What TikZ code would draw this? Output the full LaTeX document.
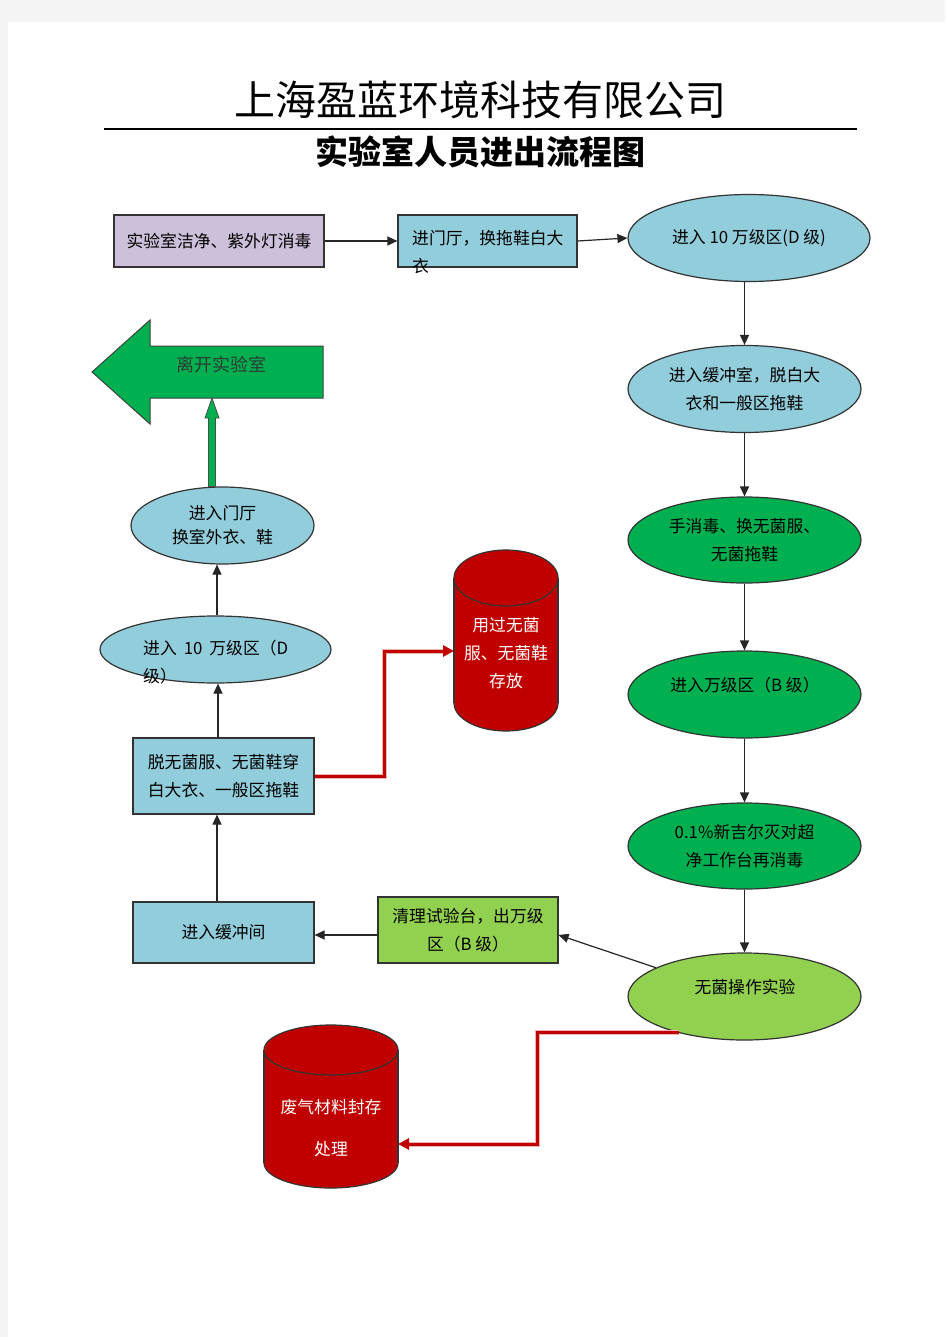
\documentclass[tikz,border=0pt]{standalone}
\usepackage{fontspec}
\newfontfamily\cjk{Noto Sans CJK SC}
\usetikzlibrary{shapes.geometric,arrows.meta,calc}
\definecolor{cgray}{HTML}{F4F4F4}
\definecolor{cpurple}{HTML}{CCC0DA}
\definecolor{cblue}{HTML}{92CDDC}
\definecolor{cgreen}{HTML}{00B050}
\definecolor{clgreen}{HTML}{92D050}
\definecolor{cred}{HTML}{C00000}
\definecolor{cdark}{HTML}{2E3B33}
\begin{document}
\begin{tikzpicture}[x=1pt,y=-1pt,
  font={\cjk\fontsize{16.8}{28}\selectfont},
  box/.style={draw=black!80,line width=1.2pt,rectangle,inner sep=0pt,align=center},
  oval/.style={draw=black!80,line width=1.2pt,ellipse,inner sep=0pt,align=center},
  txt/.style={inner sep=0pt,align=center},
  arr/.style={line width=1.2pt,draw=black!85,-{Triangle[length=10pt,width=9pt]}},
  redarr/.style={line width=3pt,draw=cred,-{Triangle[length=11pt,width=11pt]},
    preaction={draw=cred!30,line width=5pt,-,shorten >=9pt}},
  cylline/.style={line width=1.2pt,draw=black!80}]
% page
\fill[cgray] (0,0) rectangle (945,1337);
\fill[white] (8,22) rectangle (945,1337);
\useasboundingbox (0,0) rectangle (945,1337);
% titles
\node[txt,font={\cjk\fontsize{41}{41}\selectfont}] (title) at (480,100) {上海盈蓝环境科技有限公司};
\draw[line width=1.2pt] (104,129) -- (857,129);
\node[txt,font={\cjk\bfseries\fontsize{33}{33}\selectfont}] (sub) at (480,152) {实验室人员进出流程图};
% right column
\node[box,fill=cpurple,minimum width=210pt,minimum height=52pt] (n1) at (219,241) {实验室洁净、紫外灯消毒};
\node[box,fill=cblue,minimum width=179pt,minimum height=52pt] (n2) at (487.5,241) {};
\node[txt,anchor=west,align=left] (n2t) at (412,252) {进门厅，换拖鞋白大\\衣};
\node[oval,fill=cblue,minimum width=242pt,minimum height=87pt] (n3) at (749,238) {进入 10 万级区(D 级)};
\node[oval,fill=cblue,minimum width=233pt,minimum height=87pt] (n4) at (744.5,389) {进入缓冲室，脱白大\\衣和一般区拖鞋};
\node[oval,fill=cgreen,minimum width=233pt,minimum height=86pt] (n5) at (744.5,540) {手消毒、换无菌服、\\无菌拖鞋};
\node[oval,fill=cgreen,minimum width=233pt,minimum height=87pt] (n6) at (744.5,694.5) {};
\node[txt] (n6t) at (745,685) {进入万级区（B 级）};
\node[oval,fill=cgreen,minimum width=233pt,minimum height=86pt] (n7) at (744.5,846) {0.1\%新吉尔灭对超\\净工作台再消毒};
\node[oval,fill=clgreen,minimum width=233pt,minimum height=87pt] (n8) at (744.5,996.5) {};
\node[txt] (n8t) at (745,987) {无菌操作实验};
% left column
\node[box,fill=clgreen,minimum width=180pt,minimum height=66pt] (n9) at (468,930) {清理试验台，出万级\\区（B 级）};
\node[box,fill=cblue,minimum width=181pt,minimum height=61pt] (n10) at (223.5,932.5) {进入缓冲间};
\node[box,fill=cblue,minimum width=181pt,minimum height=76pt] (n11) at (223.5,776) {脱无菌服、无菌鞋穿\\白大衣、一般区拖鞋};
\node[oval,fill=cblue,minimum width=231pt,minimum height=67pt] (n12) at (215.5,649.5) {};
\node[txt,anchor=west,align=left] (n12t) at (143,662) {进入\hspace{7pt}10\hspace{7pt}万级区（D\\级）};
\node[oval,fill=cblue,minimum width=183pt,minimum height=77pt,font={\cjk\fontsize{16.8}{24}\selectfont}] (n13) at (222.5,525.5) {进入门厅\\换室外衣、鞋};
% leave arrow shape
\filldraw[fill=cgreen,draw=black!75,line width=1pt] (92,372) -- (150,320) -- (150,346) -- (323,346) -- (323,398) -- (150,398) -- (150,424) -- cycle;
\node[txt,text=cdark,font={\cjk\fontsize{18}{18}\selectfont}] (leave) at (221,365) {离开实验室};
\coordinate (leaveb) at (212,398);
% cylinder 1
\fill[cred] (454,578) rectangle (558,703);
\fill[cred] (506,703) ellipse (52 and 28);
\draw[cylline] (454,578) -- (454,703) (558,578) -- (558,703);
\begin{scope}
\clip (440,703) rectangle (570,740);
\draw[cylline] (506,703) ellipse (52 and 28);
\end{scope}
\filldraw[cylline,fill=cred] (506,578) ellipse (52 and 28);
\node[txt,text=white] (cyl1) at (506,653) {用过无菌\\服、无菌鞋\\存放};
\coordinate (c1w) at (454,651);
% cylinder 2
\fill[cred] (264,1050) rectangle (398,1163);
\fill[cred] (331,1163) ellipse (67 and 25);
\draw[cylline] (264,1050) -- (264,1163) (398,1050) -- (398,1163);
\begin{scope}
\clip (250,1163) rectangle (410,1200);
\draw[cylline] (331,1163) ellipse (67 and 25);
\end{scope}
\filldraw[cylline,fill=cred] (331,1050) ellipse (67 and 25);
\node[txt,text=white,font={\cjk\fontsize{16.8}{42}\selectfont}] (cyl2) at (331,1128) {废气材料封存\\处理};
\coordinate (c2e) at (398,1144);
% connectors
\draw[arr] (n1.east) -- (n2.west);
\draw[arr] (n2.east) -- (n3.west);
\draw[arr] (n4.north |- n3.south) -- (n4.north);
\draw[arr] (n4.south) -- (n5.north);
\draw[arr] (n5.south) -- (n6.north);
\draw[arr] (n6.south) -- (n7.north);
\draw[arr] (n7.south) -- (n8.north);
\draw[arr] (n8.162) -- ([yshift=-5pt]n9.east);
\draw[arr] ([yshift=-5pt]n9.west) -- ([yshift=-2.5pt]n10.east);
\coordinate (p10) at ([xshift=-6.5pt]n10.north);
\draw[arr] (p10) -- (p10 |- n11.south);
\coordinate (p11) at ([xshift=-5.5pt]n11.north);
\draw[arr] (p11) -- (p11 |- n12.south);
\coordinate (p12) at ([xshift=1.5pt]n12.north);
\draw[arr] (p12) -- (p12 |- n13.south);
% thick green arrow
\coordinate (ga) at ([xshift=-10.5pt]n13.north);
\filldraw[fill=cgreen,draw=black!70,line width=0.8pt]
  ($(ga)+(-3.5,0)$) -- ($(leaveb)+(-3.5,20)$) -- ($(leaveb)+(-7,20)$) -- (leaveb)
  -- ($(leaveb)+(7,20)$) -- ($(leaveb)+(3.5,20)$) -- ($(ga)+(3.5,0)$) -- cycle;
% red connectors
\draw[redarr] (n11.east) -- ++(70,0) |- (c1w);
\draw[redarr] (n8.209.5) -- ++(-141,0) |- (c2e);
\end{tikzpicture}
\end{document}
